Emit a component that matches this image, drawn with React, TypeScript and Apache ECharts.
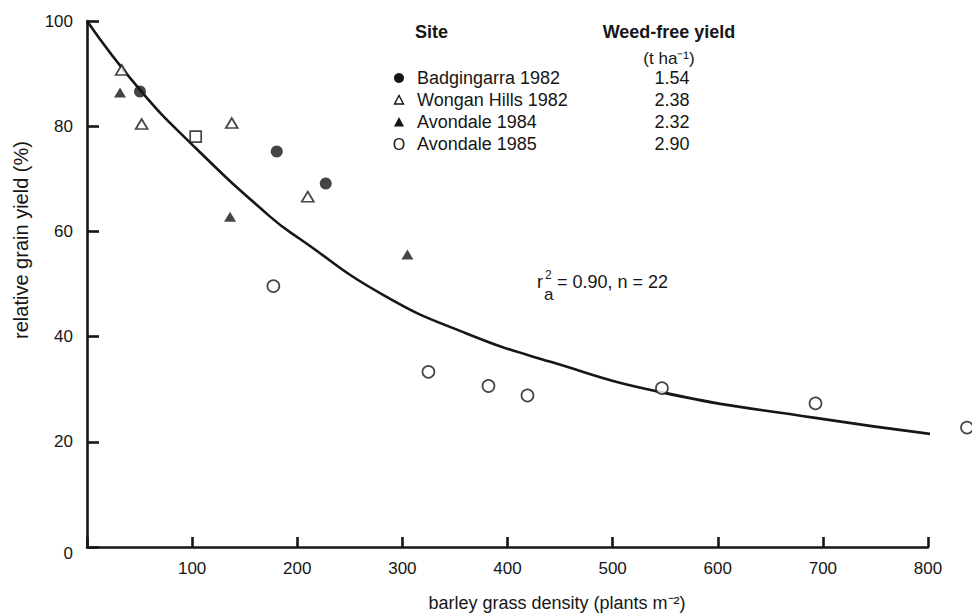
import React, { useEffect, useRef } from "react";
import * as echarts from "echarts";

// ---- data ----
const badgingarraX = [50.4, 180.5, 227.1];
const badgingarraY = [86.6, 75.2, 69.1];

const wonganX = [33, 52, 137.7, 210];
const wonganY = [90.7, 80.4, 80.6, 66.6];

const avondale84X = [31.4, 136.1, 304.8];
const avondale84Y = [86.4, 62.8, 55.6];

const squareX = [103.4];
const squareY = [78.0];

const avondale85X = [177.3, 324.8, 381.9, 419.0, 546.9, 693.0, 837.1];
const avondale85Y = [49.6, 33.3, 30.6, 28.8, 30.2, 27.3, 22.7];

// fitted curve
const curveX = [0, 50, 100, 173, 203, 282, 361, 441, 547, 691, 834];
const curveY = [100, 87.0, 76.5, 63.0, 58.5, 47.9, 40.6, 35.2, 29.4, 24.6, 20.7];

const siteNames = ["Badgingarra 1982", "Wongan Hills 1982", "Avondale 1984", "Avondale 1985"];
const weedFreeYields = ["1.54", "2.38", "2.32", "2.90"];

const xLabel = "barley grass density (plants m\u207B\u00B2)";
const yLabel = "relative grain yield (%)";

const FONT = '"Liberation Sans", Arial, Helvetica, sans-serif';
const INK = "#161616";

const zip = (xs: number[], ys: number[]) => xs.map((x, i) => [x, ys[i]]);

export default function App() {
  const ref = useRef<HTMLDivElement>(null);

  useEffect(() => {
    if (!ref.current) return;
    const chart = echarts.init(ref.current, undefined, { renderer: "svg" });

    const rowY = [78, 100, 122, 144];
    const markerX = 399;

    const legendGraphics: any[] = [
      {
        type: "text",
        x: 415,
        y: 32,
        style: { text: "Site", fill: INK, fontSize: 18, fontWeight: "bold", fontFamily: FONT, align: "left", verticalAlign: "middle" },
      },
      {
        type: "text",
        x: 669,
        y: 32,
        style: { text: "Weed-free yield", fill: INK, fontSize: 18, fontWeight: "bold", fontFamily: FONT, align: "center", verticalAlign: "middle" },
      },
      {
        type: "text",
        x: 669,
        y: 58,
        style: { text: "(t ha\u207B\u00B9)", fill: INK, fontSize: 17, fontFamily: FONT, align: "center", verticalAlign: "middle" },
      },
    ];
    siteNames.forEach((name, i) => {
      legendGraphics.push({
        type: "text",
        x: 417,
        y: rowY[i],
        style: { text: name, fill: INK, fontSize: 18, fontFamily: FONT, align: "left", verticalAlign: "middle" },
      });
      legendGraphics.push({
        type: "text",
        x: 672,
        y: rowY[i],
        style: { text: weedFreeYields[i], fill: INK, fontSize: 18, fontFamily: FONT, align: "center", verticalAlign: "middle" },
      });
    });
    // legend markers
    legendGraphics.push(
      { type: "circle", shape: { cx: markerX, cy: rowY[0], r: 5 }, style: { fill: INK } },
      {
        type: "polygon",
        shape: { points: [[markerX - 4.5, rowY[1] + 4], [markerX + 4.5, rowY[1] + 4], [markerX, rowY[1] - 4.5]] },
        style: { fill: "#fff", stroke: INK, lineWidth: 1.4 },
      },
      {
        type: "polygon",
        shape: { points: [[markerX - 5, rowY[2] + 4.5], [markerX + 5, rowY[2] + 4.5], [markerX, rowY[2] - 5]] },
        style: { fill: INK },
      },
      {
        type: "text",
        x: markerX,
        y: rowY[3],
        style: { text: "O", fill: INK, fontSize: 16, fontFamily: FONT, align: "center", verticalAlign: "middle" },
      }
    );

    const annotation: any[] = [
      { type: "text", x: 537, y: 282, style: { text: "r", fill: INK, fontSize: 18, fontFamily: FONT, align: "left", verticalAlign: "middle" } },
      { type: "text", x: 545, y: 275, style: { text: "2", fill: INK, fontSize: 12, fontFamily: FONT, align: "left", verticalAlign: "middle" } },
      { type: "text", x: 544, y: 294, style: { text: "a", fill: INK, fontSize: 17, fontFamily: FONT, align: "left", verticalAlign: "middle" } },
      { type: "text", x: 557, y: 282, style: { text: "= 0.90, n = 22", fill: INK, fontSize: 18, fontFamily: FONT, align: "left", verticalAlign: "middle" } },
      { type: "text", x: 557, y: 603, style: { text: xLabel, fill: INK, fontSize: 18, fontFamily: FONT, align: "center", verticalAlign: "middle" } },
      {
        type: "text",
        x: 21,
        y: 240,
        rotation: Math.PI / 2,
        style: { text: yLabel, fill: INK, fontSize: 20, fontFamily: FONT, align: "center", verticalAlign: "middle" },
      },
    ];

    const openStyle = { color: "#ffffff", borderColor: INK, borderWidth: 1.7 };

    chart.setOption({
      animation: false,
      backgroundColor: "#ffffff",
      grid: { left: 87, right: 44, top: 21, bottom: 66, containLabel: false },
      xAxis: {
        type: "value",
        min: 0,
        max: 800,
        interval: 100,
        axisLine: { show: true, lineStyle: { color: INK, width: 2.6 } },
        axisTick: { show: true, inside: true, length: 10, lineStyle: { color: INK, width: 2.6 } },
        axisLabel: {
          fontSize: 17,
          color: INK,
          fontFamily: FONT,
          margin: 13,
          formatter: (v: number) => (v === 0 ? "" : String(v)),
        },
        splitLine: { show: false },
      },
      yAxis: {
        type: "value",
        min: 0,
        max: 100,
        interval: 20,
        axisLine: { show: true, lineStyle: { color: INK, width: 2.6 } },
        axisTick: { show: true, inside: true, length: 12, lineStyle: { color: INK, width: 2.6 } },
        axisLabel: {
          fontSize: 17,
          color: INK,
          fontFamily: FONT,
          margin: 14,
          formatter: (v: number) => (v === 0 ? "{z|0}" : String(v)),
          rich: { z: { fontSize: 17, color: INK, fontFamily: FONT, padding: [12, 0, 0, 0] } },
        },
        splitLine: { show: false },
      },
      graphic: [...legendGraphics, ...annotation],
      series: [
        {
          name: "fit",
          type: "line",
          data: zip(curveX, curveY),
          smooth: 0.5,
          showSymbol: false,
          clip: false,
          lineStyle: { color: INK, width: 2.6 },
          z: 1,
        },
        {
          name: siteNames[0],
          type: "scatter",
          data: zip(badgingarraX, badgingarraY),
          symbol: "circle",
          symbolSize: 12,
          itemStyle: { color: INK },
          z: 3,
        },
        {
          name: siteNames[1],
          type: "scatter",
          data: zip(wonganX, wonganY),
          symbol: "triangle",
          symbolSize: [12, 10],
          itemStyle: openStyle,
          z: 3,
        },
        {
          name: siteNames[2],
          type: "scatter",
          data: zip(avondale84X, avondale84Y),
          symbol: "triangle",
          symbolSize: [12, 10],
          itemStyle: { color: INK },
          z: 3,
        },
        {
          name: "square",
          type: "scatter",
          data: zip(squareX, squareY),
          symbol: "rect",
          symbolSize: 11,
          itemStyle: openStyle,
          z: 3,
        },
        {
          name: siteNames[3],
          type: "scatter",
          data: zip(avondale85X, avondale85Y),
          symbol: "circle",
          symbolSize: 12,
          clip: false,
          itemStyle: openStyle,
          z: 3,
        },
      ],
    });

    return () => chart.dispose();
  }, []);

  return <div ref={ref} style={{ position: "absolute", left: 0, top: 0, width: 972, height: 613 }} />;
}
